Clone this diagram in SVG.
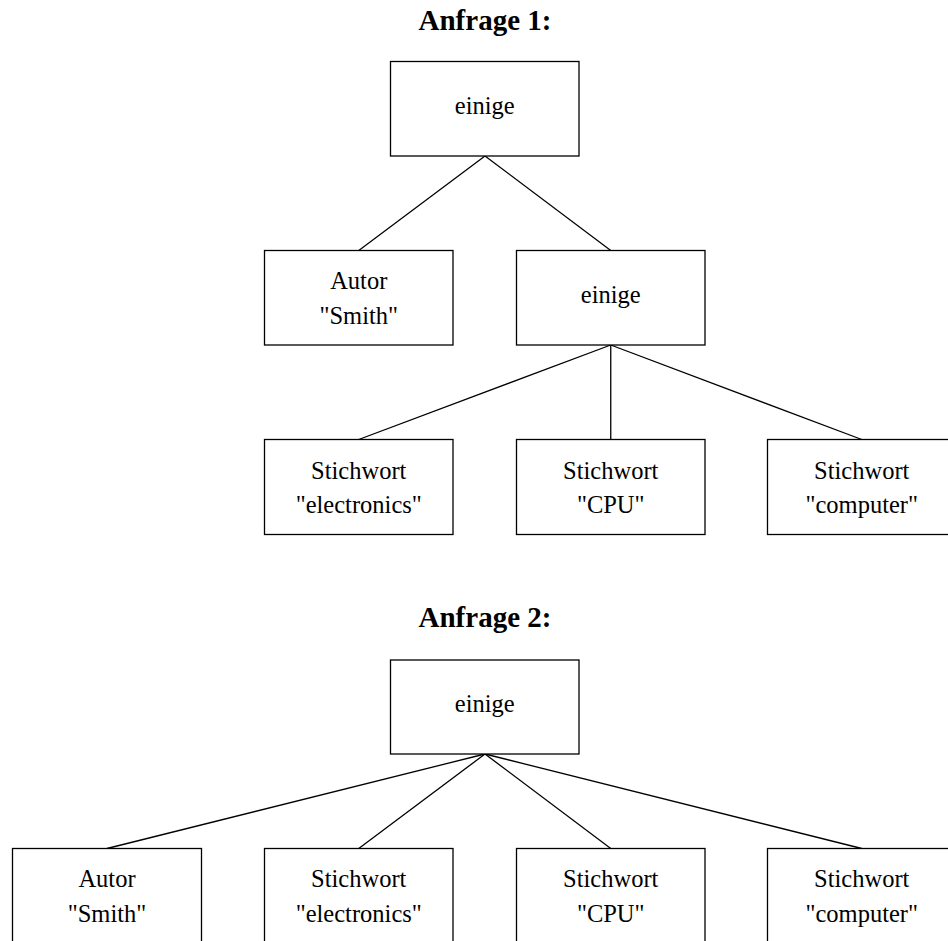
<svg xmlns="http://www.w3.org/2000/svg" width="948" height="941" viewBox="0 0 948 941">
  <style>
    .box { fill: #ffffff; stroke: #000000; stroke-width: 1.3; }
    .edge { stroke: #000000; stroke-width: 1.3; fill: none; }
    .lbl { font-family: "Liberation Serif", "Times New Roman", serif; font-size: 24.5px; fill: #000000; text-anchor: middle; }
    .title { font-family: "Liberation Serif", "Times New Roman", serif; font-size: 29px; font-weight: bold; fill: #000000; text-anchor: middle; }
  </style>
  <rect width="948" height="941" fill="#ffffff"/>

  <!-- Query 1 -->
  <text class="title" x="485" y="30">Anfrage 1:</text>
  <g id="connectors-q1">
    <line class="edge" x1="485" y1="156" x2="358.75" y2="250.5"/>
    <line class="edge" x1="485" y1="156" x2="610.75" y2="250.5"/>
    <line class="edge" x1="610.75" y1="345" x2="358.75" y2="439.5"/>
    <line class="edge" x1="610.75" y1="345" x2="610.75" y2="439.5"/>
    <line class="edge" x1="610.75" y1="345" x2="861.75" y2="439.5"/>
  </g>
  <g id="q1-root">
    <rect class="box" x="390.5" y="61.5" width="188.5" height="94.5"/>
    <text class="lbl" x="484.75" y="113.5">einige</text>
  </g>
  <g id="q1-autor">
    <rect class="box" x="264.5" y="250.5" width="188.5" height="94.5"/>
    <text class="lbl" x="358.75" y="289">Autor</text>
    <text class="lbl" x="358.75" y="323.5">"Smith"</text>
  </g>
  <g id="q1-einige">
    <rect class="box" x="516.5" y="250.5" width="188.5" height="94.5"/>
    <text class="lbl" x="610.75" y="302.5">einige</text>
  </g>
  <g id="q1-electronics">
    <rect class="box" x="264.5" y="439.5" width="188.5" height="95"/>
    <text class="lbl" x="358.75" y="478.5">Stichwort</text>
    <text class="lbl" x="358.75" y="513">"electronics"</text>
  </g>
  <g id="q1-cpu">
    <rect class="box" x="516.5" y="439.5" width="188.5" height="95"/>
    <text class="lbl" x="610.75" y="478.5">Stichwort</text>
    <text class="lbl" x="610.75" y="513">"CPU"</text>
  </g>
  <g id="q1-computer">
    <rect class="box" x="767.5" y="439.5" width="188.5" height="95"/>
    <text class="lbl" x="861.75" y="478.5">Stichwort</text>
    <text class="lbl" x="861.75" y="513">"computer"</text>
  </g>

  <!-- Query 2 -->
  <text class="title" x="485" y="626.5">Anfrage 2:</text>
  <g id="connectors-q2">
    <line class="edge" x1="485" y1="754" x2="107" y2="848.5"/>
    <line class="edge" x1="485" y1="754" x2="358.75" y2="848.5"/>
    <line class="edge" x1="485" y1="754" x2="610.75" y2="848.5"/>
    <line class="edge" x1="485" y1="754" x2="861.75" y2="848.5"/>
  </g>
  <g id="q2-root">
    <rect class="box" x="390.5" y="660" width="188.5" height="94"/>
    <text class="lbl" x="484.75" y="711.5">einige</text>
  </g>
  <g id="q2-autor">
    <rect class="box" x="12.5" y="848.5" width="189" height="100"/>
    <text class="lbl" x="107" y="887">Autor</text>
    <text class="lbl" x="107" y="922">"Smith"</text>
  </g>
  <g id="q2-electronics">
    <rect class="box" x="264.5" y="848.5" width="188.5" height="100"/>
    <text class="lbl" x="358.75" y="887">Stichwort</text>
    <text class="lbl" x="358.75" y="922">"electronics"</text>
  </g>
  <g id="q2-cpu">
    <rect class="box" x="516.5" y="848.5" width="188.5" height="100"/>
    <text class="lbl" x="610.75" y="887">Stichwort</text>
    <text class="lbl" x="610.75" y="922">"CPU"</text>
  </g>
  <g id="q2-computer">
    <rect class="box" x="767.5" y="848.5" width="188.5" height="100"/>
    <text class="lbl" x="861.75" y="887">Stichwort</text>
    <text class="lbl" x="861.75" y="922">"computer"</text>
  </g>
</svg>
